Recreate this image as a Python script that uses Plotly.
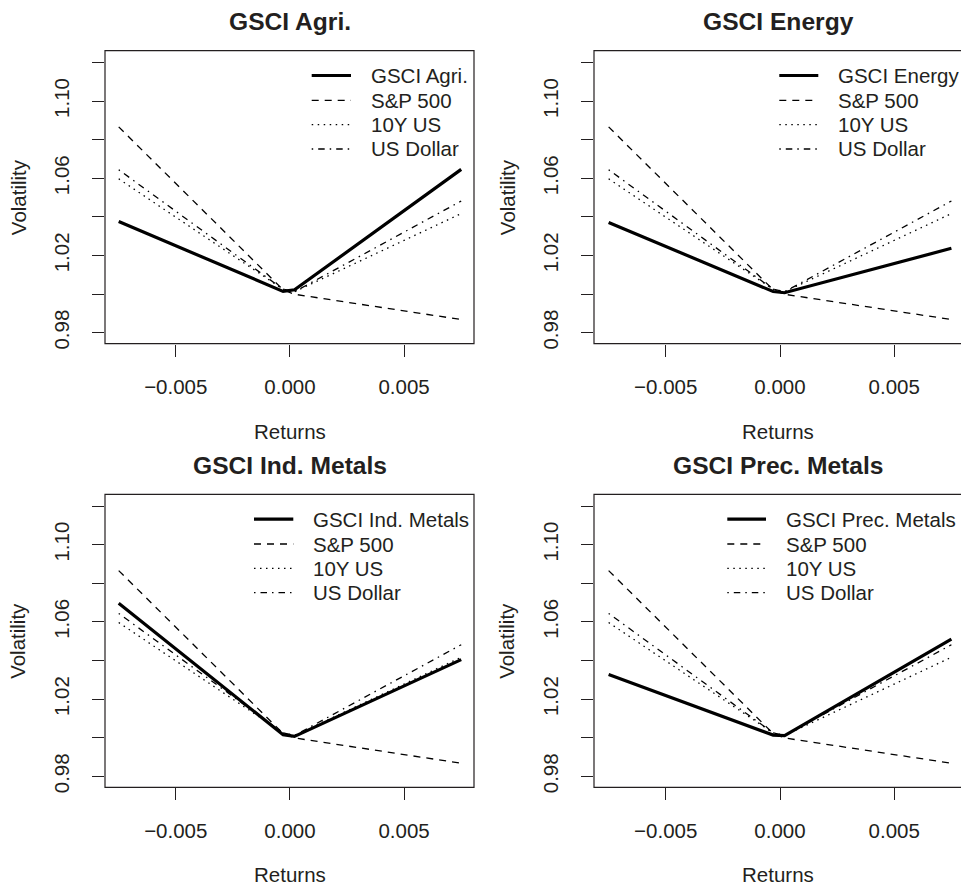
import plotly.graph_objects as go

W, H = 961, 892
FONT = "Liberation Sans, Arial, Helvetica, sans-serif"
INK = "#231F20"

# ---- data ----
returns = [-0.0075, -0.0003, 0.0002, 0.0075]

sp500 = [1.0866, 1.0022, 0.9999, 0.9868]
us10y = [1.0597, 1.0025, 1.0012, 1.0417]
usd = [1.0644, 1.0025, 1.0012, 1.0482]

gsci_agri = [1.0376, 1.0014, 1.0022, 1.0646]
gsci_energy = [1.0371, 1.0013, 1.0007, 1.0237]
gsci_ind_metals = [1.0697, 1.0016, 1.0007, 1.0405]
gsci_prec_metals = [1.0328, 1.0014, 1.0011, 1.0511]

panel_names = ["GSCI Agri.", "GSCI Energy", "GSCI Ind. Metals", "GSCI Prec. Metals"]
panel_series = [gsci_agri, gsci_energy, gsci_ind_metals, gsci_prec_metals]
other_names = ["S&P 500", "10Y US", "US Dollar"]
other_series = [sp500, us10y, usd]

x_tickvals = [-0.005, 0.0, 0.005]
x_ticktext = ["\u22120.005", "0.000", "0.005"]
y_tickvals = [0.98, 1.00, 1.02, 1.04, 1.06, 1.08, 1.10, 1.12]
y_ticktext = ["0.98", "", "1.02", "", "1.06", "", "1.10", ""]

# ---- layout geometry (pixels) ----
# box: left, right, top, bottom
boxes = [
    (105, 474, 51, 346),
    (594, 961, 51, 346),
    (105, 474, 497.7, 792.7),
    (594, 961, 497.7, 792.7),
]
xranges = [
    [-0.0081, 0.00806],
    [-0.00814, 0.00792],
    [-0.0081, 0.00806],
    [-0.00814, 0.00792],
]
yrange = [0.9743, 1.1261]
legend_x = [(311.7, 351, 369), (779.3, 818.3, 836), (254, 293.3, 310.7), (727.3, 766, 784.3)]
legend_rows = [25, 50, 74.5, 99]

styles = [
    dict(width=3.2, dash="solid"),
    dict(width=1.3, dash="7px,6px"),
    dict(width=1.3, dash="1.5px,4.5px"),
    dict(width=1.3, dash="1.5px,5px,6.5px,5px"),
]

FS = 20.5

fig = go.Figure()
shapes = []
annotations = []

for i in range(4):
    l, r, t, b = boxes[i]
    xa = "x" if i == 0 else f"x{i+1}"
    ya = "y" if i == 0 else f"y{i+1}"
    names = [panel_names[i]] + other_names
    series = [panel_series[i]] + other_series
    for k, (nm, vals) in enumerate(zip(names, series)):
        fig.add_trace(go.Scatter(
            x=returns, y=vals, mode="lines", name=nm, showlegend=False,
            line=dict(color="black", width=styles[k]["width"], dash=styles[k]["dash"]),
            xaxis=xa, yaxis=ya, hoverinfo="skip",
        ))
    suffix = "" if i == 0 else str(i + 1)
    common = dict(showgrid=False, zeroline=False, showline=False, ticks="outside",
                  ticklen=12, tickwidth=1, tickcolor=INK,
                  tickfont=dict(family=FONT, size=FS, color=INK))
    fig.layout["xaxis" + suffix] = dict(
        domain=[l / W, min(r / W, 1.0)], range=xranges[i], anchor=ya,
        tickmode="array", tickvals=x_tickvals, ticktext=x_ticktext,
        ticklabelstandoff=13, **common)
    fig.layout["yaxis" + suffix] = dict(
        domain=[1 - b / H, 1 - t / H], range=yrange, anchor=xa,
        tickmode="array", tickvals=y_tickvals, ticktext=y_ticktext,
        tickangle=-90, ticklabelstandoff=15, **common)

    # box
    xref_d = xa + " domain"
    yref_d = ya + " domain"
    shapes.append(dict(type="rect", xref=xref_d, yref=yref_d, x0=0, x1=1.003 if i % 2 else 1,
                       y0=0, y1=1, line=dict(color=INK, width=1.2), layer="above"))

    # titles
    cx = (l + (962 if i % 2 else r)) / 2
    annotations.append(dict(text="<b>" + panel_names[i] + "</b>", xref="paper", yref="paper",
                            x=cx / W, y=1 - (t - 29.5) / H, xanchor="center", yanchor="middle",
                            showarrow=False, font=dict(family=FONT, size=24.6, color=INK)))
    annotations.append(dict(text="Returns", xref="paper", yref="paper",
                            x=cx / W, y=1 - (b + 88) / H, xanchor="center", yanchor="middle",
                            showarrow=False, font=dict(family=FONT, size=FS, color=INK)))
    annotations.append(dict(text="Volatility", xref="paper", yref="paper",
                            x=(l - 87) / W, y=1 - ((t + b) / 2) / H, xanchor="center",
                            yanchor="middle", textangle=-90,
                            showarrow=False, font=dict(family=FONT, size=FS, color=INK)))

    # legend (no box)
    lx0, lx1, tx = legend_x[i]
    for k, nm in enumerate(names):
        yy = 1 - (t + legend_rows[k]) / H
        shapes.append(dict(type="line", xref="paper", yref="paper", x0=lx0 / W, x1=lx1 / W,
                           y0=yy, y1=yy,
                           line=dict(color="black", width=styles[k]["width"], dash=styles[k]["dash"])))
        annotations.append(dict(text=nm, xref="paper", yref="paper", x=tx / W, y=yy,
                                xanchor="left", yanchor="middle", showarrow=False,
                                font=dict(family=FONT, size=FS, color=INK)))

fig.update_layout(
    width=W, height=H, margin=dict(l=0, r=0, t=0, b=0),
    paper_bgcolor="white", plot_bgcolor="white",
    shapes=shapes, annotations=annotations, showlegend=False,
)

fig.write_html("out.html")
